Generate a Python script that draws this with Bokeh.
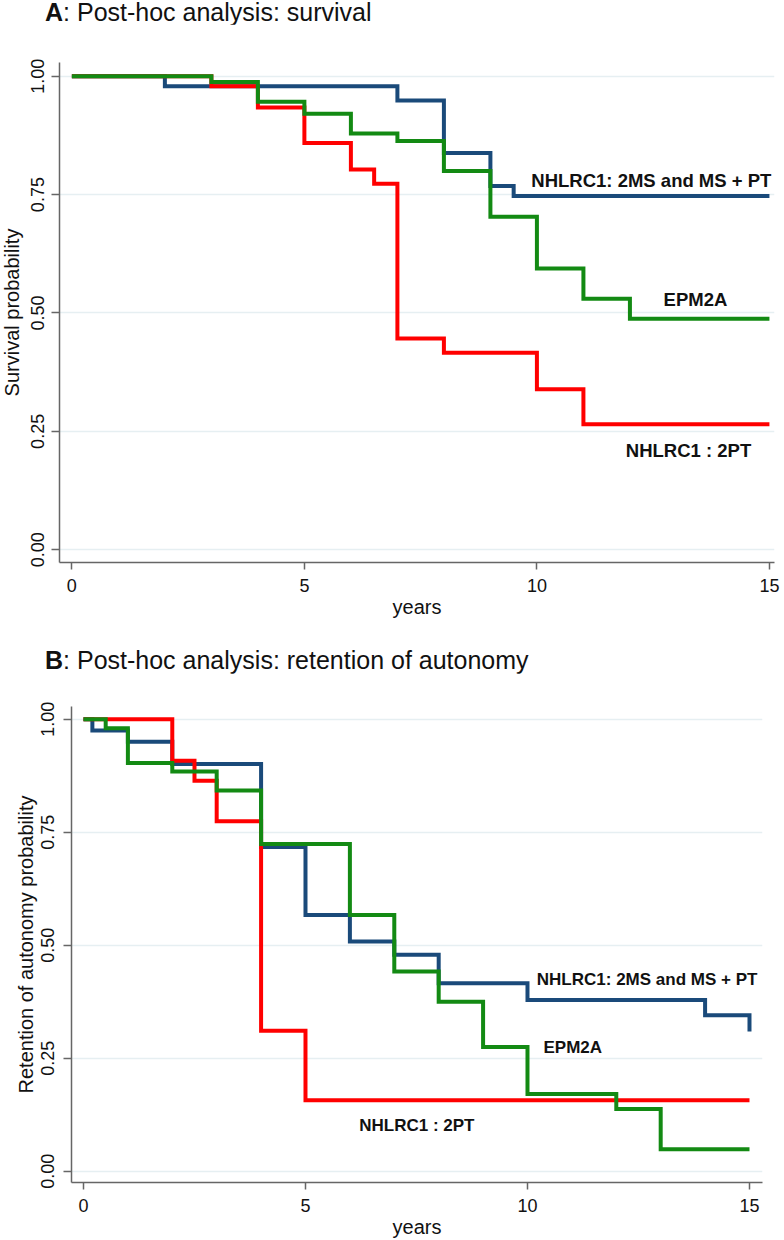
from bokeh.plotting import figure
from bokeh.models import Range1d, FixedTicker, Label, PrintfTickFormatter, Div
from bokeh.layouts import column
from bokeh.embed import file_html
from bokeh.resources import INLINE

FONT = "Liberation Sans"
BLUE = "#1a4a7a"
RED = "#ff0000"
GREEN = "#138a13"
GRID = "#e6eff2"
AXIS = "#666666"
TXT = "#111111"

# ---------------- data ----------------
y_ticks = [0.0, 0.25, 0.5, 0.75, 1.0]
x_ticks = [0, 5, 10, 15]

# Panel A: survival
a_ms_t = [0, 2, 7, 8, 9, 9.5, 15]
a_ms_s = [1.0, 0.979, 0.949, 0.838, 0.768, 0.747, 0.747]
a_epm_t = [0, 3, 4, 5, 6, 7, 8, 9, 10, 11, 12, 15]
a_epm_s = [1.0, 0.988, 0.946, 0.921, 0.879, 0.863, 0.800, 0.703, 0.594, 0.530, 0.488, 0.488]
a_pt_t = [0, 3, 4, 5, 6, 6.5, 7, 8, 10, 11, 15]
a_pt_s = [1.0, 0.979, 0.934, 0.859, 0.803, 0.773, 0.446, 0.416, 0.339, 0.265, 0.265]

# Panel B: retention of autonomy
b_ms_t = [0, 0.2, 1, 2, 4, 5, 6, 7, 8, 10, 14, 15]
b_ms_s = [1.0, 0.975, 0.950, 0.901, 0.717, 0.567, 0.508, 0.479, 0.416, 0.379, 0.345, 0.309]
b_epm_t = [0, 0.5, 1, 2, 3, 4, 6, 7, 8, 9, 10, 12, 13, 15]
b_epm_s = [1.0, 0.980, 0.903, 0.884, 0.842, 0.724, 0.567, 0.442, 0.375, 0.275, 0.171, 0.138, 0.049, 0.049]
b_pt_t = [0, 2, 2.5, 3, 4, 5, 15]
b_pt_s = [1.0, 0.908, 0.864, 0.774, 0.311, 0.157, 0.157]

label_ms = "NHLRC1: 2MS and MS + PT"
label_epm = "EPM2A"
label_pt = "NHLRC1 : 2PT"


def title_div(letter, text, height):
    return Div(text=f"<b>{letter}</b>: {text}", width=784, height=height, margin=(0, 0, 0, 0),
               styles={"font-family": FONT, "font-size": "25px", "color": TXT,
                       "line-height": f"{height}px", "padding-left": "45px",
                       "white-space": "nowrap"})


def make_panel(ylabel, series, labels, frame_w, frame_h,
               mb_right, mb_top, mb_bottom, xr, yr, lab_size,
               ylab_standoff, ytick_standoff, margin_left):
    p = figure(frame_width=frame_w, frame_height=frame_h,
               x_range=Range1d(*xr), y_range=Range1d(*yr),
               output_backend="svg", toolbar_location=None,
               min_border_left=10, min_border_right=mb_right,
               min_border_top=mb_top, min_border_bottom=mb_bottom,
               margin=(0, 0, 0, margin_left))
    p.outline_line_color = None
    p.background_fill_color = "white"
    p.border_fill_color = "white"
    p.xgrid.visible = False
    p.ygrid.ticker = FixedTicker(ticks=y_ticks)
    p.ygrid.grid_line_color = GRID
    p.ygrid.grid_line_width = 1.5

    p.yaxis.ticker = FixedTicker(ticks=y_ticks)
    p.yaxis.formatter = PrintfTickFormatter(format="%.2f")
    p.yaxis.major_label_orientation = "vertical"
    p.xaxis.ticker = FixedTicker(ticks=x_ticks)
    for ax in (p.xaxis, p.yaxis):
        ax.axis_line_color = AXIS
        ax.axis_line_width = 1.5
        ax.major_tick_line_color = AXIS
        ax.major_tick_line_width = 1.5
        ax.major_tick_in = 0
        ax.minor_tick_line_color = None
        ax.major_label_text_font = FONT
        ax.major_label_text_font_size = "18px"
        ax.major_label_text_color = TXT
        ax.axis_label_text_font = FONT
        ax.axis_label_text_font_size = "20px"
        ax.axis_label_text_font_style = "normal"
        ax.axis_label_text_color = TXT
    p.yaxis.major_tick_out = 8
    p.xaxis.major_tick_out = 7
    p.yaxis.major_label_standoff = ytick_standoff
    p.xaxis.major_label_standoff = 9
    p.yaxis.axis_label = ylabel
    p.xaxis.axis_label = "years"
    p.yaxis.axis_label_standoff = ylab_standoff
    p.xaxis.axis_label_standoff = 1

    for (t, s, c) in series:
        p.step(x=t, y=s, mode="after", line_color=c, line_width=4, line_join="miter")

    for (txt, x, y, align) in labels:
        p.add_layout(Label(x=x, y=y, text=txt, text_font=FONT, text_font_style="bold",
                           text_font_size=lab_size, text_align=align,
                           text_baseline="middle", text_color=TXT))
    return p


divA = title_div("A", "Post-hoc analysis: survival", 24)
pA = make_panel(
    "Survival probability",
    [(a_ms_t, a_ms_s, BLUE), (a_pt_t, a_pt_s, RED), (a_epm_t, a_epm_s, GREEN)],
    [(label_ms, 9.88, 0.779, "left"), (label_epm, 13.41, 0.529, "center"),
     (label_pt, 13.26, 0.210, "center")],
    frame_w=718, frame_h=500, mb_right=7, mb_top=38, mb_bottom=85,
    xr=(-0.266, 15.109), yr=(-0.027, 1.029), lab_size="18.5px",
    ylab_standoff=6, ytick_standoff=7, margin_left=-3)

divB = title_div("B", "Post-hoc analysis: retention of autonomy", 26)
pB = make_panel(
    "Retention of autonomy probability",
    [(b_ms_t, b_ms_s, BLUE), (b_pt_t, b_pt_s, RED), (b_epm_t, b_epm_s, GREEN)],
    [(label_ms, 10.21, 0.4235, "left"), (label_epm, 10.36, 0.2747, "left"),
     (label_pt, 6.21, 0.1006, "left")],
    frame_w=691, frame_h=476, mb_right=22, mb_top=33, mb_bottom=57,
    xr=(-0.27, 15.293), yr=(-0.0248, 1.028), lab_size="17px",
    ylab_standoff=2, ytick_standoff=9, margin_left=9)

layout = column(divA, pA, divB, pB, spacing=0)
open("out.html", "w").write(file_html(layout, INLINE))
